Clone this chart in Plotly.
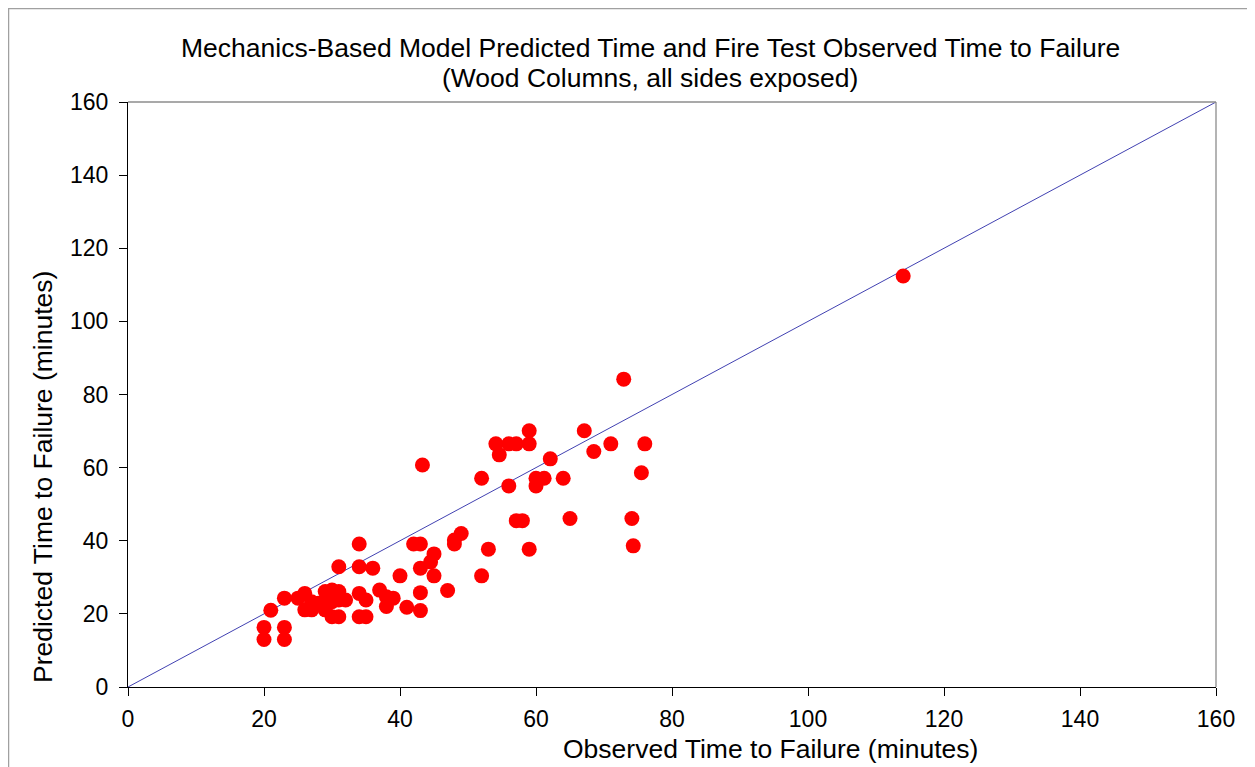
import plotly.graph_objects as go

observed = [20, 20, 21, 23, 23, 23, 25, 26, 26, 27, 27, 28, 29, 29, 29, 30, 30, 30, 31, 31,
            31, 32, 31, 34, 34, 36, 34, 35, 34, 35, 37, 38, 38, 39, 40, 41, 42, 43, 43, 43,
            43, 44.5, 45, 45, 47, 48, 48, 49, 43.3, 52, 53, 52, 54.1, 54.6, 56, 57.1, 59, 59,
            56, 60, 61.2, 60, 62.1, 64, 67.1, 68.5, 71, 76, 75.5, 57.1, 58, 65, 74.1, 74.3,
            59, 72.9, 114]
predicted = [16.3, 13.0, 21.0, 16.3, 13.0, 24.3, 24.3, 25.6, 21.1, 23.3, 21.1, 22.9, 26.1, 23.8,
             21.1, 26.5, 23.3, 19.2, 26.1, 23.8, 19.2, 23.8, 32.9, 39.1, 32.9, 32.5, 25.6, 23.8,
             19.2, 19.2, 26.5, 24.7, 22.0, 24.3, 30.4, 21.8, 39.1, 39.1, 32.5, 25.8, 20.9, 34.2,
             36.4, 30.4, 26.4, 40.2, 39.1, 42.0, 60.7, 30.4, 37.7, 57.1, 66.5, 63.5, 66.5, 66.5,
             70.1, 66.5, 55.0, 57.1, 57.1, 55.0, 62.4, 57.1, 70.1, 64.4, 66.5, 66.5, 58.6, 45.5,
             45.5, 46.1, 46.1, 38.6, 37.7, 84.2, 112.4]
line_x = [0, 160]
line_y = [0, 160]
tick_vals = [0, 20, 40, 60, 80, 100, 120, 140, 160]

FONT = "Liberation Sans, Arial, sans-serif"

fig = go.Figure()
fig.add_trace(go.Scatter(x=line_x, y=line_y, mode="lines",
                         line=dict(color="#2b2ba8", width=0.9),
                         hoverinfo="skip", showlegend=False))
fig.add_trace(go.Scatter(x=observed, y=predicted, mode="markers",
                         marker=dict(color="#ff0000", size=15, line=dict(width=0)),
                         showlegend=False))

axis_common = dict(range=[0, 160], tickvals=tick_vals, showgrid=False, zeroline=False,
                   ticks="outside", ticklen=8, tickcolor="#000000", tickwidth=1,
                   showline=True, linecolor="#000000", linewidth=1.3,
                   tickfont=dict(family=FONT, size=23, color="#000000"))

fig.update_xaxes(**axis_common, ticklabelstandoff=3)
fig.update_yaxes(**axis_common, ticklabelstandoff=6)

# top and right borders (gray)
fig.add_shape(type="line", xref="paper", yref="paper", x0=0, x1=1, y0=1, y1=1,
              line=dict(color="#8c8c8c", width=1.3))
fig.add_shape(type="line", xref="paper", yref="paper", x0=1, x1=1, y0=0, y1=1,
              line=dict(color="#8c8c8c", width=1.3))
# outer chart frame (plot area: x 128..1216, y 102..687 in window pixels)
fig.add_shape(type="rect", xref="paper", yref="paper",
              x0=(8.5 - 128) / 1088, x1=(1251 - 128) / 1088,
              y0=(687 - 790) / 585, y1=(687 - 8.5) / 585,
              line=dict(color="#a0a0a0", width=1.5), fillcolor="rgba(0,0,0,0)")

fig.add_annotation(text="Mechanics-Based Model Predicted Time and Fire Test Observed Time to Failure",
                   xref="paper", yref="paper", x=(650 - 128) / 1088, y=(687 - 48) / 585,
                   showarrow=False, xanchor="center", yanchor="middle",
                   font=dict(family=FONT, size=26.5, color="#000000"))
fig.add_annotation(text="(Wood Columns, all sides exposed)",
                   xref="paper", yref="paper", x=(650 - 128) / 1088, y=(687 - 78) / 585,
                   showarrow=False, xanchor="center", yanchor="middle",
                   font=dict(family=FONT, size=26.5, color="#000000"))
fig.add_annotation(text="Observed Time to Failure (minutes)",
                   xref="paper", yref="paper", x=(770 - 128) / 1088, y=(687 - 749) / 585,
                   showarrow=False, xanchor="center", yanchor="middle",
                   font=dict(family=FONT, size=26.5, color="#000000"))
fig.add_annotation(text="Predicted Time to Failure (minutes)",
                   xref="paper", yref="paper", x=(43 - 128) / 1088, y=(687 - 477) / 585,
                   showarrow=False, xanchor="center", yanchor="middle", textangle=-90,
                   font=dict(family=FONT, size=26.5, color="#000000"))

# page body has an 8px margin, so the figure is sized and offset to fit the window
fig.update_layout(width=1247, height=759, margin=dict(l=120, r=39, t=94, b=80),
                  paper_bgcolor="#ffffff", plot_bgcolor="#ffffff")

fig.write_html("out.html")
